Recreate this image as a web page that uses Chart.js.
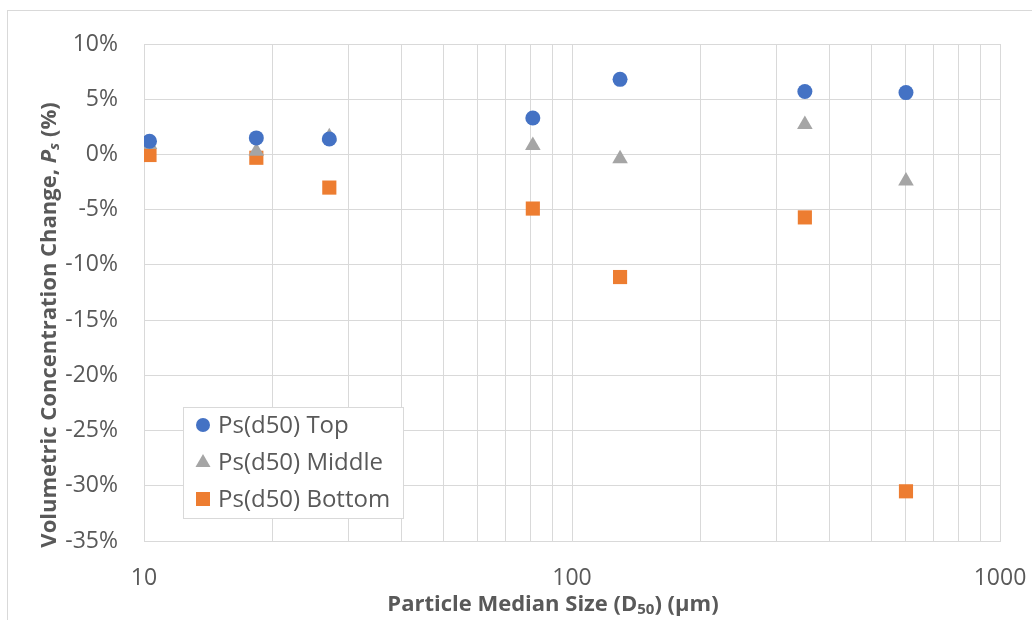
<!DOCTYPE html>
<html>
<head>
<meta charset="utf-8">
<script src="https://cdn.jsdelivr.net/npm/chart.js@4"></script>
<style>
  body { margin: 0; background: #fff; }
  #wrap { position: relative; width: 1032px; height: 620px; overflow: hidden; }
  #frame { position: absolute; left: 7px; top: 10px; width: 1040px; height: 640px; border: 1px solid #d9d9d9; }
  canvas { position: absolute; left: 0; top: 0; }
</style>
</head>
<body>
<div id="wrap">
  <div id="frame"></div>
  <canvas id="chart" width="1032" height="620"></canvas>
</div>
<script>
// particle median size D50 (um)
var sizes = [10.3, 18.3, 27.1, 81, 129.5, 350, 603];
var psTop = [1.2, 1.5, 1.4, 3.3, 6.8, 5.7, 5.6];
var psMiddle = [0.9, 0.3, 1.6, 0.8, -0.4, 2.7, -2.4];
var psBottom = [-0.05, -0.3, -3.0, -4.9, -11.1, -5.7, -30.5];

var seriesNames = ['Ps(d50) Top', 'Ps(d50) Middle', 'Ps(d50) Bottom'];
var xTickValues = [10, 20, 30, 40, 50, 60, 70, 80, 90, 100, 200, 300, 400, 500, 600, 700, 800, 900, 1000];

var textColor = '#595959';
var gridColor = '#d9d9d9';
var fontFamily = "'Open Sans', sans-serif";

function pts(ys) {
    return ys.map((y, i) => ({ x: sizes[i], y: y }));
}

function drawMixed(ctx, parts, x, y) {
    // centered run of text with different fonts
    var total = 0;
    parts.forEach(p => { ctx.font = p.font; p.w = ctx.measureText(p.t).width; total += p.w; });
    var cx = x - total / 2;
    parts.forEach(p => {
        ctx.font = p.font;
        ctx.fillText(p.t, cx, y + (p.dy || 0));
        cx += p.w;
    });
}

function drawMarker(ctx, style, color, x, y) {
    ctx.fillStyle = color;
    ctx.beginPath();
    if (style === 'circle') {
        ctx.arc(x, y, 7, 0, Math.PI * 2);
    } else if (style === 'triangle') {
        ctx.moveTo(x, y - 8);
        ctx.lineTo(x + 7.5, y + 5);
        ctx.lineTo(x - 7.5, y + 5);
        ctx.closePath();
    } else {
        ctx.rect(x - 7, y - 7, 14, 14);
    }
    ctx.fill();
}

var extras = {
    id: 'extras',
    afterDraw(chart) {
        var ctx = chart.ctx;
        ctx.save();
        ctx.fillStyle = textColor;
        ctx.textBaseline = 'middle';
        ctx.textAlign = 'left';

        // x axis title
        var b = 'bold 22px ' + fontFamily;
        var bs = 'bold 15px ' + fontFamily;
        drawMixed(ctx, [
            { t: 'Particle Median Size (D', font: b },
            { t: '50', font: bs, dy: 5 },
            { t: ') (\u03bcm)', font: b }
        ], 553, 605);

        // y axis title
        ctx.save();
        ctx.translate(50, 325);
        ctx.rotate(-Math.PI / 2);
        drawMixed(ctx, [
            { t: 'Volumetric Concentration Change, ', font: b },
            { t: 'P', font: 'italic ' + b },
            { t: 's', font: 'italic ' + bs, dy: 5 },
            { t: ' (%)', font: b }
        ], 0, 0);
        ctx.restore();

        // legend box
        var lx = 183, ly = 407, lw = 220, lh = 111;
        ctx.fillStyle = '#fff';
        ctx.fillRect(lx, ly, lw, lh);
        ctx.strokeStyle = gridColor;
        ctx.lineWidth = 1;
        ctx.strokeRect(lx + 0.5, ly + 0.5, lw, lh);
        ctx.font = '24px ' + fontFamily;
        chart.data.datasets.forEach((ds, i) => {
            var ry = ly + 18 + i * 37;
            drawMarker(ctx, ds.pointStyle, ds.backgroundColor, 203, ry);
            ctx.fillStyle = textColor;
            ctx.fillText(ds.label, 218, ry + 1);
        });
        ctx.restore();
    }
};

var ctx = document.getElementById('chart').getContext('2d');
var chart = new Chart(ctx, {
    type: 'scatter',
    data: {
        datasets: [{
            label: seriesNames[0],
            data: pts(psTop),
            pointStyle: 'circle',
            backgroundColor: '#4472C4',
            borderColor: '#4472C4',
            pointRadius: 7.5,
            borderWidth: 0
        }, {
            label: seriesNames[1],
            data: pts(psMiddle),
            pointStyle: 'triangle',
            backgroundColor: '#A5A5A5',
            borderColor: '#A5A5A5',
            pointRadius: 9,
            borderWidth: 0
        }, {
            label: seriesNames[2],
            data: pts(psBottom),
            pointStyle: 'rect',
            backgroundColor: '#ED7D31',
            borderColor: '#ED7D31',
            pointRadius: 10,
            borderWidth: 0
        }]
    },
    options: {
        responsive: false,
        animation: false,
        layout: {
            padding: { left: 0, top: 44, right: 32, bottom: 0 }
        },
        plugins: {
            legend: { display: false },
            tooltip: { enabled: false }
        },
        scales: {
            x: {
                type: 'logarithmic',
                min: 10,
                max: 1000,
                afterBuildTicks: function (scale) {
                    scale.ticks = xTickValues.map(v => ({ value: v }));
                },
                afterFit: function (scale) {
                    scale.height = 79;
                    scale.paddingLeft = 0;
                    scale.paddingRight = 0;
                },
                grid: { color: gridColor, drawTicks: false },
                border: { color: gridColor },
                ticks: {
                    autoSkip: false,
                    maxRotation: 0,
                    padding: 24,
                    color: textColor,
                    font: { family: fontFamily, size: 23 },
                    callback: function (value) {
                        var l = Math.log10(value);
                        return Math.abs(l - Math.round(l)) < 1e-9 ? String(value) : '';
                    }
                }
            },
            y: {
                min: -35,
                max: 10,
                afterFit: function (scale) {
                    scale.width = 144;
                    scale.paddingTop = 0;
                    scale.paddingBottom = 0;
                },
                grid: { color: gridColor, drawTicks: false },
                border: { color: gridColor },
                ticks: {
                    stepSize: 5,
                    padding: 26,
                    color: textColor,
                    font: { family: fontFamily, size: 23 },
                    callback: function (value) {
                        return value + '%';
                    }
                }
            }
        }
    },
    plugins: [extras]
});
</script>
</body>
</html>
